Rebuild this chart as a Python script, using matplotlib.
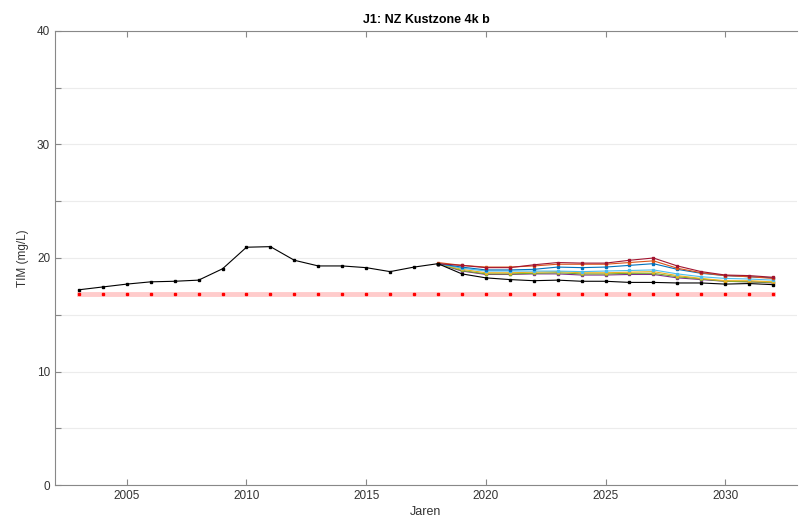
import numpy as np
import matplotlib.pyplot as plt
from matplotlib.ticker import MultipleLocator, FuncFormatter

plt.rcParams['font.family'] = ['Liberation Sans', 'DejaVu Sans']

# historische meting
jaren_hist = list(range(2003, 2019))
tim_hist = [17.2, 17.45, 17.7, 17.9, 17.95, 18.05, 19.05, 20.95, 21.0, 19.8,
            19.3, 19.3, 19.15, 18.8, 19.2, 19.5]

# norm
jaren_norm = list(range(2003, 2033))
tim_norm = [16.8] * len(jaren_norm)

# scenario's
jaren_sc = list(range(2018, 2033))
sc_rood = [19.5, 19.35, 19.15, 19.15, 19.4, 19.6, 19.55, 19.55, 19.8, 20.0, 19.3, 18.8, 18.5, 18.45, 18.3]
sc_oranje = [19.6, 19.35, 19.2, 19.2, 19.3, 19.45, 19.45, 19.45, 19.6, 19.75, 19.1, 18.7, 18.45, 18.35, 18.2]
sc_blauw = [19.5, 19.2, 18.95, 18.95, 19.0, 19.2, 19.15, 19.2, 19.35, 19.5, 19.0, 18.65, 18.45, 18.35, 18.25]
sc_cyaan = [19.5, 19.1, 18.85, 18.85, 18.85, 18.85, 18.8, 18.85, 18.9, 18.95, 18.6, 18.35, 18.2, 18.15, 18.05]
sc_geel = [19.5, 19.0, 18.7, 18.7, 18.75, 18.8, 18.7, 18.7, 18.75, 18.8, 18.45, 18.2, 18.0, 18.0, 17.9]
sc_groen = [19.5, 18.9, 18.6, 18.6, 18.65, 18.7, 18.6, 18.6, 18.65, 18.65, 18.35, 18.15, 17.95, 17.9, 17.85]
sc_paars = [19.5, 18.85, 18.55, 18.55, 18.6, 18.6, 18.5, 18.5, 18.55, 18.55, 18.25, 18.1, 17.95, 17.9, 17.8]
sc_zwart = [19.5, 18.6, 18.25, 18.1, 18.0, 18.05, 17.95, 17.95, 17.85, 17.85, 17.8, 17.8, 17.7, 17.75, 17.65]

scenarios = [
    (sc_paars, (0.494, 0.184, 0.556)),
    (sc_groen, (0.466, 0.674, 0.188)),
    (sc_geel, (0.929, 0.694, 0.125)),
    (sc_cyaan, (0.301, 0.745, 0.933)),
    (sc_blauw, (0.0, 0.447, 0.741)),
    (sc_oranje, (0.85, 0.325, 0.098)),
    (sc_rood, (0.635, 0.078, 0.184)),
]

fig = plt.figure(figsize=(7.99, 5.28), dpi=100)
ax = fig.add_axes([55 / 799, 43 / 528, 742 / 799, 454 / 528])

# norm als brede roze band met rode punten
ax.plot(jaren_norm, tim_norm, color='#ffcccc', lw=3.5, zorder=2)
ax.plot(jaren_norm, tim_norm, ls='none', marker='s', ms=1.6, color='red', zorder=3)

for waarden, kleur in scenarios:
    ax.plot(jaren_sc, waarden, color=kleur, lw=0.8, marker='s', ms=1.8, zorder=3)
ax.plot(jaren_sc, sc_zwart, color='black', lw=0.8, marker='s', ms=1.8, zorder=4)
ax.plot(jaren_hist, tim_hist, color='black', lw=0.8, marker='s', ms=1.8, zorder=4)

ax.set_xlim(2002, 2033)
ax.set_ylim(0, 40)
ax.set_xticks([2005, 2010, 2015, 2020, 2025, 2030])
ax.yaxis.set_major_locator(MultipleLocator(5))
ax.yaxis.set_major_formatter(FuncFormatter(lambda v, p: '%d' % v if v % 10 == 0 else ''))
ax.grid(axis='y', color='#ececec', lw=0.8)
ax.set_axisbelow(True)

ax.tick_params(direction='in', length=4, width=0.8, color='#888888',
               labelsize=8.5, labelcolor='#333333', top=True)
for s in ['left', 'bottom', 'top']:
    ax.spines[s].set_color('#888888')
    ax.spines[s].set_linewidth(0.8)
ax.spines['right'].set_visible(False)

ax.set_title('J1: NZ Kustzone 4k b', fontsize=9, fontweight='bold', pad=6)
ax.set_xlabel('Jaren', fontsize=9, color='#333333', labelpad=3)
ax.set_ylabel('TIM (mg/L)', fontsize=8.5, color='#333333', labelpad=6)

fig.savefig('out.png', dpi=100)
